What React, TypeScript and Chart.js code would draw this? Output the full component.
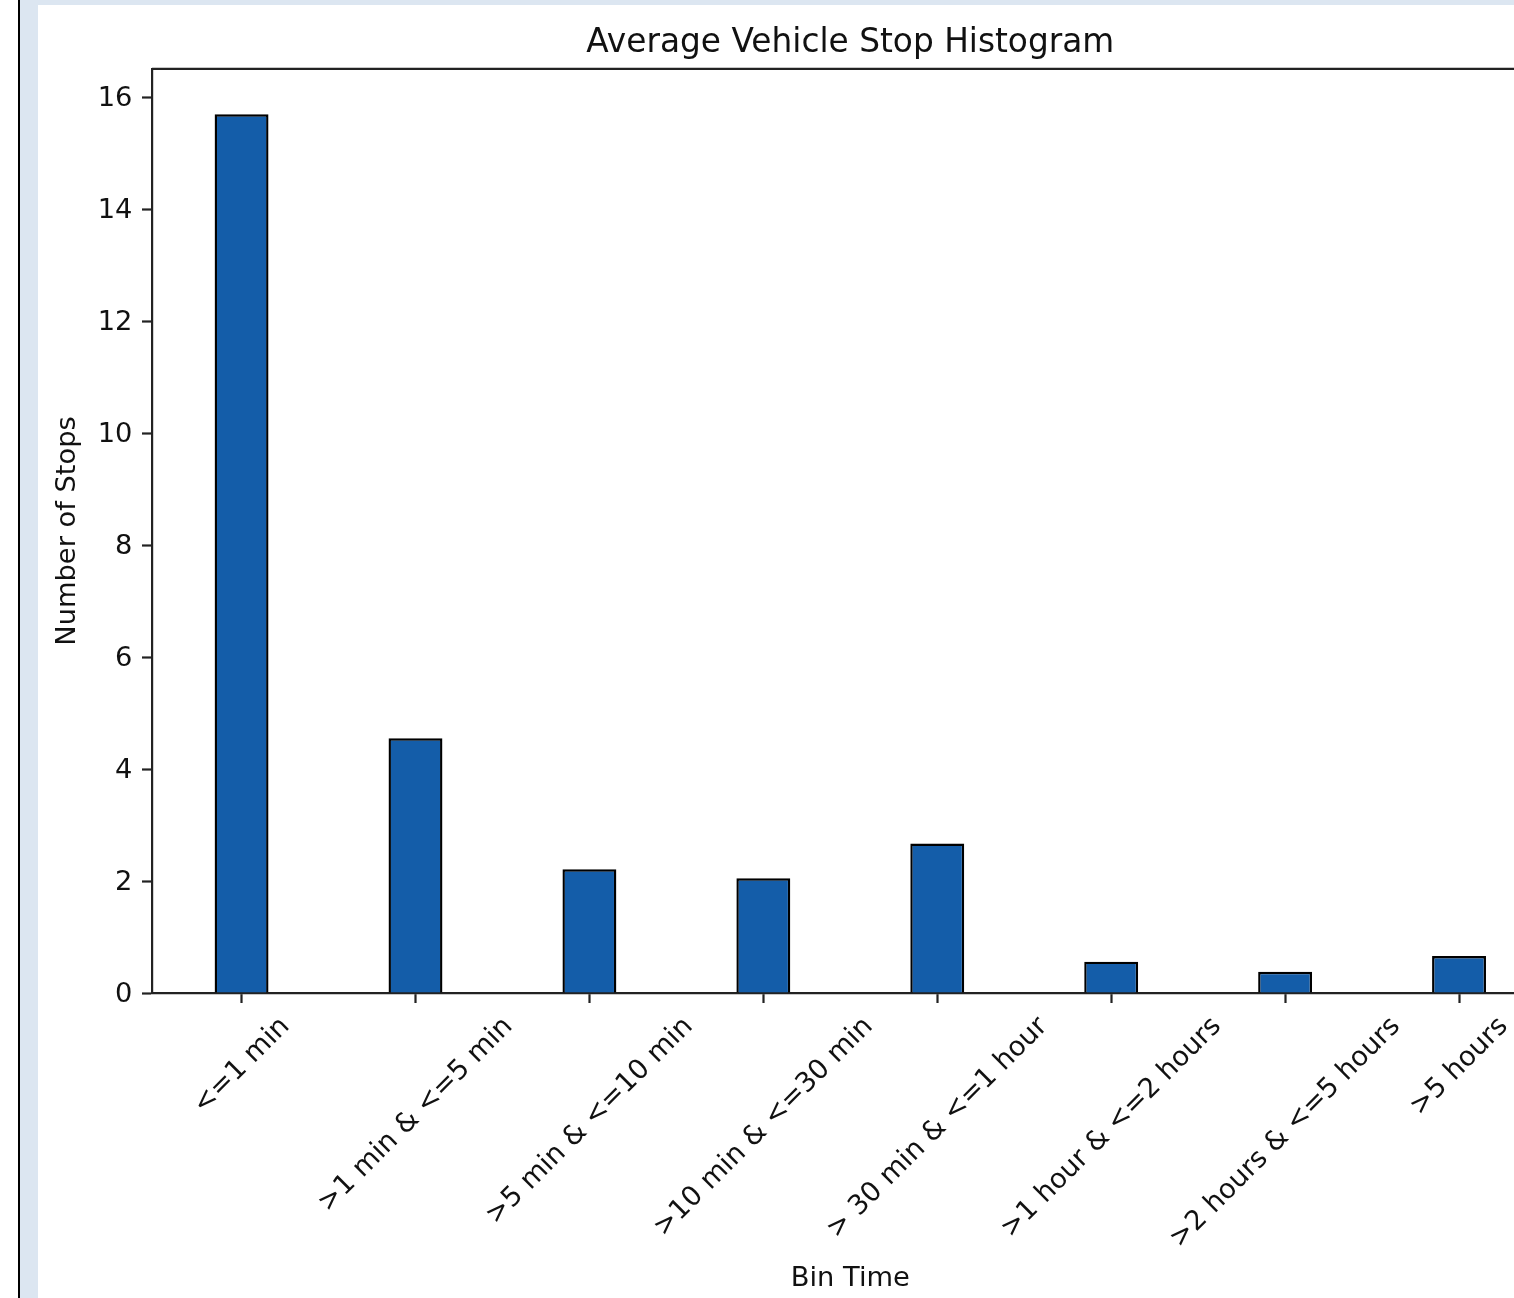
import React, { useEffect, useRef } from 'react';
import { Chart, registerables } from 'chart.js';

Chart.register(...registerables);

// ---- data ----
const categories = [
  '<=1 min',
  '>1 min & <=5 min',
  '>5 min & <=10 min',
  '>10 min & <=30 min',
  '> 30 min & <=1 hour',
  '>1 hour & <=2 hours',
  '>2 hours & <=5 hours',
  '>5 hours',
];
const stopCounts = [15.7, 4.55, 2.21, 2.05, 2.67, 0.56, 0.38, 0.66];
const yTicks = [0, 2, 4, 6, 8, 10, 12, 14, 16];
const chartTitle = 'Average Vehicle Stop Histogram';
const xTitle = 'Bin Time';
const yTitle = 'Number of Stops';

// ---- style ----
const FAMILY = '"DejaVu Sans", "Liberation Sans", sans-serif';
const FS = 27.3;
const TITLE_FS = 32.8;
const TEXT = '#111111';
const AXIS = '#222222';
const BAR = '#145da9';
const LIGHT = '#dce6f1';
const TICK_LEN = 10;
const TICK_PAD = 9.6;

const mplLabels = {
  id: 'mplLabels',
  afterDraw(chart: any) {
    const { ctx, chartArea } = chart;
    const xs = chart.scales.x;
    ctx.save();
    ctx.strokeStyle = AXIS;
    ctx.lineWidth = 2.2;
    ctx.beginPath();
    ctx.moveTo(chartArea.left, chartArea.top);
    ctx.lineTo(chartArea.right, chartArea.top);
    ctx.lineTo(chartArea.right, chartArea.bottom);
    ctx.stroke();

    ctx.font = `${FS}px ${FAMILY}`;
    ctx.fillStyle = TEXT;
    const top = chartArea.bottom + TICK_LEN + TICK_PAD;
    categories.forEach((label, i) => {
      const px = xs.getPixelForValue(i);
      const w = ctx.measureText(label).width;
      const side = (w + 0.968 * FS) * Math.SQRT1_2;
      ctx.save();
      ctx.translate(px, top + side / 2);
      ctx.rotate(-Math.PI / 4);
      ctx.textAlign = 'center';
      ctx.textBaseline = 'alphabetic';
      ctx.fillText(label, 0, 0.276 * FS);
      ctx.restore();
    });
    ctx.restore();
  },
};

export default function App() {
  const ref = useRef<HTMLCanvasElement>(null);

  useEffect(() => {
    const font = { family: FAMILY, size: FS, weight: 'normal' as const, lineHeight: 1.2 };
    const chart = new Chart(ref.current!, {
      type: 'bar',
      data: {
        datasets: [
          {
            data: categories.map((_, i) => ({ x: i, y: stopCounts[i] })),
            backgroundColor: BAR,
            borderColor: '#000000',
            borderWidth: 2.4,
            borderSkipped: 'start',
            barPercentage: 0.31,
            categoryPercentage: 1,
          },
        ],
      },
      options: {
        responsive: false,
        animation: false,
        devicePixelRatio: 1,
        layout: { padding: { left: 0, right: 19.4, top: 0, bottom: 0 } },
        plugins: {
          legend: { display: false },
          tooltip: { enabled: false },
          title: {
            display: true,
            text: chartTitle,
            fullSize: false,
            color: TEXT,
            font: { family: FAMILY, size: TITLE_FS, weight: 'normal', lineHeight: 1.2 },
            padding: { top: 18.8, bottom: 5.8 },
          },
        },
        scales: {
          x: {
            type: 'linear',
            offset: false,
            min: -0.515,
            max: 7.515,
            afterBuildTicks: (s: any) => {
              s.ticks = categories.map((_, i) => ({ value: i }));
            },
            afterFit: (s: any) => {
              s.height = 305;
            },
            ticks: { display: false },
            grid: {
              offset: false,
              drawOnChartArea: false,
              tickLength: TICK_LEN,
              tickWidth: 2.2,
              tickColor: AXIS,
            },
            border: { display: true, color: AXIS, width: 2.2 },
            title: { display: true, text: xTitle, color: TEXT, font, padding: { top: 0, bottom: 2.6 } },
          },
          y: {
            type: 'linear',
            min: 0,
            max: 16.51,
            afterBuildTicks: (s: any) => {
              s.ticks = yTicks.map((v) => ({ value: v }));
            },
            afterFit: (s: any) => {
              s.width = 114;
            },
            ticks: { color: TEXT, font, padding: TICK_PAD, labelOffset: 1.5 },
            grid: { drawOnChartArea: false, tickLength: TICK_LEN, tickWidth: 2.2, tickColor: AXIS },
            border: { display: true, color: AXIS, width: 2.2 },
            title: { display: true, text: yTitle, color: TEXT, font, padding: { top: 13.6, bottom: 0 } },
          },
        },
      },
      plugins: [mplLabels],
    } as any);
    return () => chart.destroy();
  }, []);

  return (
    <div
      style={{
        position: 'absolute',
        left: 0,
        top: 0,
        width: 1514,
        height: 1298,
        overflow: 'hidden',
        background: '#ffffff',
      }}
    >
      <div style={{ position: 'absolute', left: 18, top: 0, width: 2, height: 1298, background: '#000' }} />
      <div style={{ position: 'absolute', left: 20, top: 0, width: 18, height: 1298, background: LIGHT }} />
      <div style={{ position: 'absolute', left: 20, top: 0, width: 1494, height: 5, background: LIGHT }} />
      <canvas
        ref={ref}
        width={1530}
        height={1293}
        style={{ position: 'absolute', left: 38, top: 5, width: 1530, height: 1293 }}
      />
    </div>
  );
}
